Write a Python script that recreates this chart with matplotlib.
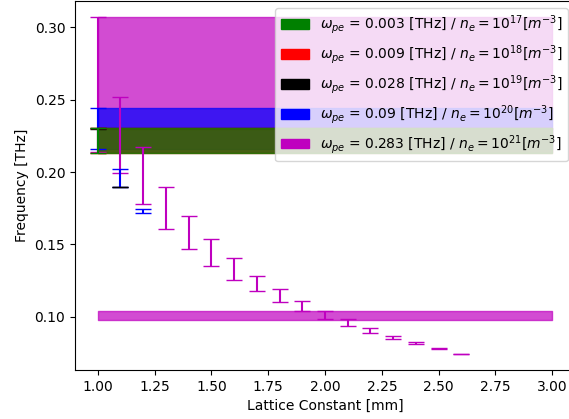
import numpy as np
import matplotlib
matplotlib.use("Agg")
import matplotlib.pyplot as plt
from matplotlib.patches import Patch

# ---- data ----
labels = [
    r'$\omega_{pe}$ = 0.003 [THz] / $n_e = 10^{17}[m^{-3}]$',
    r'$\omega_{pe}$ = 0.009 [THz] / $n_e = 10^{18}[m^{-3}]$',
    r'$\omega_{pe}$ = 0.028 [THz] / $n_e = 10^{19}[m^{-3}]$',
    r'$\omega_{pe}$ = 0.09 [THz] / $n_e = 10^{20}[m^{-3}]$',
    r'$\omega_{pe}$ = 0.283 [THz] / $n_e = 10^{21}[m^{-3}]$',
]
colors = ['green', 'red', 'black', 'blue', 'm']

# band gaps per lattice constant (lower / upper edge, THz)
x_green = [1.0]
lo_green = [0.2133]
hi_green = [0.2302]

x_red = [1.0]
lo_red = [0.2133]
hi_red = [0.2302]

x_black = [1.0, 1.1]
lo_black = [0.2300, 0.1899]
hi_black = [0.2302, 0.1900]

x_blue = [1.0, 1.1, 1.2]
lo_blue = [0.2157, 0.1899, 0.1719]
hi_blue = [0.2446, 0.2019, 0.1742]

x_mag = [1.0, 1.1, 1.2, 1.3, 1.4, 1.5, 1.6, 1.7, 1.8, 1.9,
         2.0, 2.1, 2.2, 2.3, 2.4, 2.5, 2.6]
lo_mag = [0.2140, 0.1991, 0.1777, 0.1606, 0.1466, 0.1353, 0.1256, 0.1180,
          0.1102, 0.1040, 0.0985, 0.0936, 0.0886, 0.0844, 0.0811, 0.0777, 0.0740]
hi_mag = [0.3068, 0.2520, 0.2175, 0.1900, 0.1698, 0.1537, 0.1404, 0.1284,
          0.1194, 0.1109, 0.1040, 0.0982, 0.0920, 0.0867, 0.0825, 0.0781, 0.0744]

# complete gaps (shaded bands over the lattice range)
fill_x = [1.0, 3.0]
bands_green = [(0.2133, 0.2302)]
bands_red = [(0.2133, 0.2302)]
bands_black = [(0.2298, 0.2303)]
bands_blue = [(0.2157, 0.2446)]
bands_mag = [(0.2140, 0.3068), (0.0980, 0.1040)]

series = [
    (x_green, lo_green, hi_green, bands_green),
    (x_red, lo_red, hi_red, bands_red),
    (x_black, lo_black, hi_black, bands_black),
    (x_blue, lo_blue, hi_blue, bands_blue),
    (x_mag, lo_mag, hi_mag, bands_mag),
]

fig = plt.figure(figsize=(5.69, 4.19), dpi=100)
ax = fig.add_axes([75 / 569, 49 / 419, 500 / 569, 369 / 419])

# draw in reverse order (highest plasma frequency first)
for (xs, lo, hi, bands), c in reversed(list(zip(series, colors))):
    for b_lo, b_hi in bands:
        ax.fill_between(fill_x, [b_lo, b_lo], [b_hi, b_hi], color=c, alpha=0.7)
for (xs, lo, hi, bands), c in reversed(list(zip(series, colors))):
    xs = np.array(xs)
    lo = np.array(lo)
    hi = np.array(hi)
    mid = (lo + hi) / 2
    ax.errorbar(xs, mid, yerr=[mid - lo, hi - mid], fmt='none',
                ecolor=c, capsize=6, elinewidth=1.5)

ax.set_xlim(0.9, 3.1)
ax.set_ylim(0.0632, 0.3182)
ax.set_xticks([1.0, 1.25, 1.5, 1.75, 2.0, 2.25, 2.5, 2.75, 3.0])
ax.set_yticks([0.10, 0.15, 0.20, 0.25, 0.30])
ax.set_xlabel('Lattice Constant [mm]')
ax.set_ylabel('Frequency [THz]')
ax.spines['right'].set_visible(False)

handles = [Patch(color=c, label=l) for c, l in zip(colors, labels)]
ax.legend(handles=handles, loc='upper right')

fig.savefig('out.png', dpi=100)
